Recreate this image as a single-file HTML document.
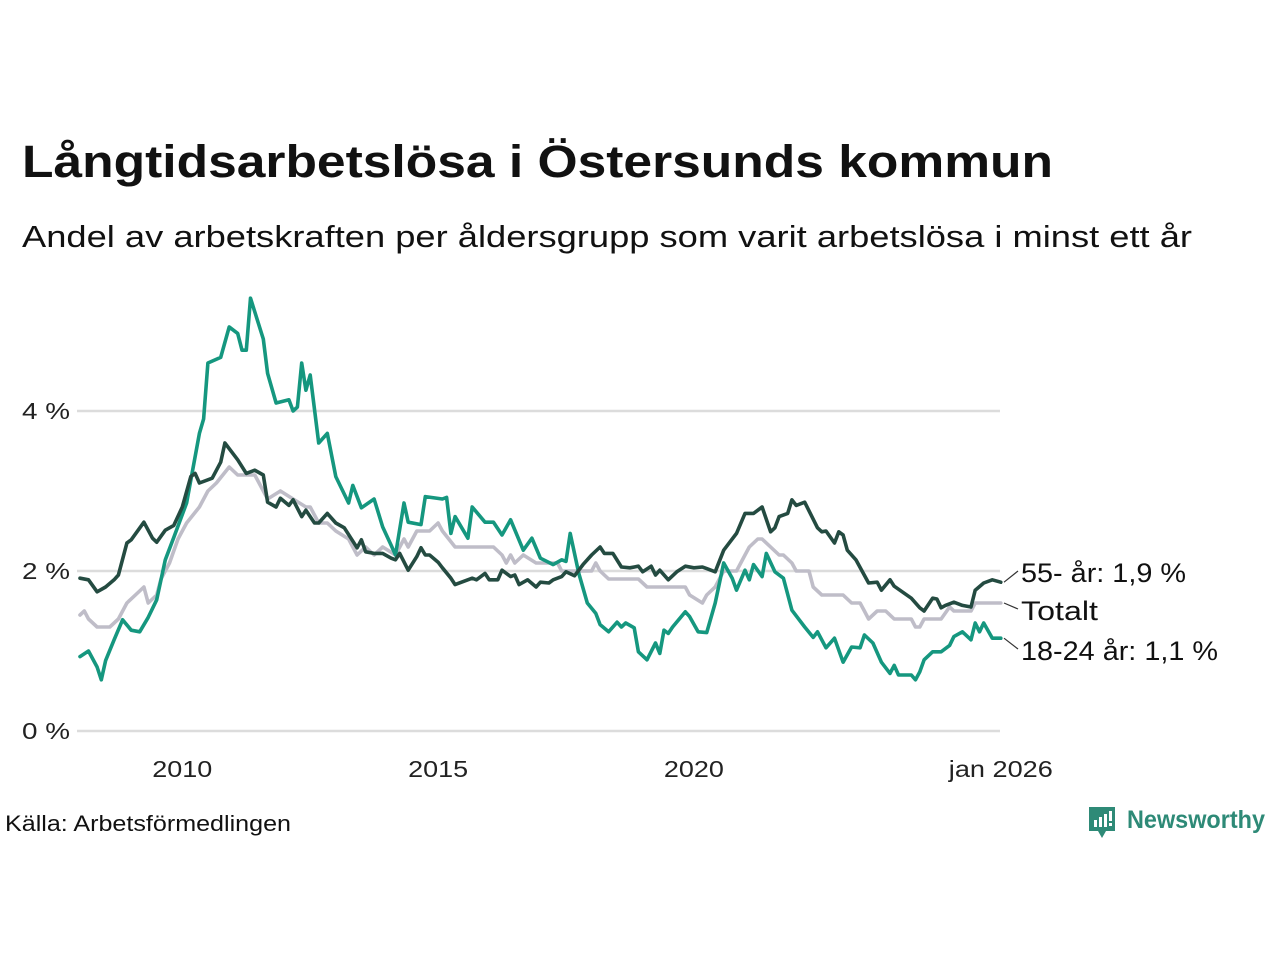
<!DOCTYPE html>
<html><head><meta charset="utf-8"><style>
html,body{margin:0;padding:0;background:#fff;}
svg{display:block;font-family:"Liberation Sans",sans-serif;}
</style></head><body>
<svg id="chart" width="1280" height="960" viewBox="0 0 1280 960" xmlns="http://www.w3.org/2000/svg">
<text x="22" y="177" font-size="45" font-weight="bold" fill="#111" textLength="1031" lengthAdjust="spacingAndGlyphs">Långtidsarbetslösa i Östersunds kommun</text>
<text x="22" y="247" font-size="31" fill="#111" textLength="1170" lengthAdjust="spacingAndGlyphs">Andel av arbetskraften per åldersgrupp som varit arbetslösa i minst ett år</text>
<g id="grid"></g>
<g id="series"></g>
<g id="labels"></g>
<text x="5" y="831" font-size="22" fill="#111" textLength="286" lengthAdjust="spacingAndGlyphs">Källa: Arbetsförmedlingen</text>
<g>
<path d="M1089 807h26v24h-9l-4 7-4-7h-9z" fill="#2e8a77"/>
<rect x="1094" y="820" width="3" height="7" fill="#fff"/>
<rect x="1099" y="817" width="3" height="10" fill="#fff"/>
<rect x="1104" y="814" width="3" height="13" fill="#fff"/>
<rect x="1109" y="811" width="3" height="10" fill="#fff"/>
<rect x="1109" y="823" width="3" height="3" fill="#fff"/>
<text x="1127" y="828" font-size="25" font-weight="bold" fill="#2e8a77" textLength="138" lengthAdjust="spacingAndGlyphs">Newsworthy</text>
</g>
</svg>
<script>
// month index since Jan 2008
const youngMonths=[0,2,4,5,6,8,10,12,14,16,18,20,22,25,28,29,30,33,35,37,38,39,40,43,44,46,49,50,51,52,53,54,56,58,60,63,64,66,69,71,73,74,76,77,80,81,85,86,87,88,91,92,95,97,99,101,104,106,108,111,113,114,115,117,119,121,122,124,126,127,128,130,131,133,135,136,137,138,139,142,143,145,147,149,151,153,154,156,157,158,160,161,163,165,167,170,172,173,175,177,179,181,183,184,186,188,190,191,192,195,196,197,198,200,202,204,205,207,209,210,211,212,214,216];
const youngValues=[0.93,1.0,0.8,0.64,0.88,1.14,1.39,1.26,1.24,1.42,1.64,2.14,2.42,2.85,3.72,3.9,4.6,4.67,5.05,4.97,4.76,4.76,5.41,4.9,4.47,4.1,4.14,4.0,4.05,4.6,4.26,4.45,3.6,3.72,3.18,2.85,3.07,2.79,2.9,2.55,2.32,2.2,2.85,2.61,2.58,2.93,2.9,2.92,2.47,2.68,2.41,2.8,2.61,2.61,2.45,2.64,2.26,2.41,2.16,2.08,2.14,2.12,2.47,1.97,1.6,1.47,1.33,1.24,1.36,1.3,1.35,1.29,0.99,0.89,1.1,0.97,1.26,1.22,1.3,1.49,1.43,1.24,1.23,1.6,2.1,1.91,1.76,2.01,1.89,2.08,1.93,2.22,1.99,1.91,1.51,1.3,1.17,1.24,1.04,1.16,0.86,1.05,1.04,1.2,1.1,0.86,0.72,0.82,0.7,0.7,0.64,0.74,0.89,0.99,0.99,1.07,1.18,1.24,1.14,1.35,1.24,1.35,1.16,1.16];
const oldMonths=[0,2,4,6,8,9,11,12,15,17,18,20,22,24,26,27,28,31,33,34,37,39,41,43,44,46,47,49,50,52,53,55,56,58,60,62,65,66,67,69,71,73,74,75,77,79,80,81,82,84,85,87,88,92,93,95,96,98,99,101,102,103,105,107,108,110,111,113,114,116,118,120,122,123,125,127,129,131,132,134,135,136,138,140,142,144,146,147,149,151,154,156,158,160,162,163,164,166,167,168,170,173,174,175,177,178,179,180,182,185,187,188,190,191,195,197,198,200,201,202,203,205,207,209,210,212,214,216];
const oldValues=[1.91,1.89,1.74,1.8,1.89,1.95,2.35,2.39,2.61,2.41,2.36,2.51,2.57,2.8,3.18,3.22,3.1,3.16,3.36,3.6,3.39,3.22,3.26,3.2,2.86,2.8,2.91,2.82,2.89,2.68,2.76,2.6,2.6,2.72,2.6,2.54,2.29,2.39,2.24,2.22,2.22,2.16,2.14,2.22,2.01,2.18,2.29,2.2,2.2,2.11,2.04,1.91,1.83,1.91,1.89,1.97,1.89,1.89,2.01,1.93,1.95,1.83,1.89,1.8,1.86,1.85,1.89,1.93,1.99,1.94,2.08,2.2,2.3,2.22,2.22,2.05,2.04,2.06,1.99,2.06,1.95,2.01,1.89,1.99,2.06,2.04,2.05,2.03,1.99,2.26,2.47,2.72,2.72,2.8,2.49,2.54,2.68,2.72,2.89,2.82,2.86,2.54,2.49,2.5,2.35,2.49,2.45,2.26,2.14,1.85,1.86,1.76,1.89,1.81,1.66,1.54,1.5,1.66,1.65,1.54,1.57,1.61,1.57,1.55,1.76,1.85,1.89,1.86];
const totalMonths=[0,1,2,4,7,9,11,13,15,16,18,19,21,23,25,28,30,32,35,37,41,44,47,50,53,54,56,58,60,63,65,67,69,71,74,76,77,79,82,84,85,88,97,99,100,101,102,104,107,108,112,113,120,121,122,124,131,133,142,143,146,147,148,149,150,151,154,156,157,159,160,162,164,165,167,168,171,172,174,179,181,183,184,185,187,189,191,195,196,197,198,202,204,205,209,210,216];
const totalValues=[1.45,1.5,1.4,1.3,1.3,1.4,1.6,1.7,1.8,1.6,1.7,1.9,2.1,2.4,2.6,2.8,3.0,3.1,3.3,3.2,3.2,2.9,3.0,2.9,2.8,2.8,2.6,2.6,2.5,2.4,2.2,2.3,2.2,2.3,2.2,2.4,2.3,2.5,2.5,2.6,2.5,2.3,2.3,2.2,2.1,2.2,2.1,2.2,2.1,2.1,2.1,2.0,2.0,2.1,2.0,1.9,1.9,1.8,1.8,1.7,1.6,1.7,1.75,1.8,1.9,2.0,2.0,2.2,2.3,2.4,2.4,2.3,2.2,2.2,2.1,2.0,2.0,1.8,1.7,1.7,1.6,1.6,1.5,1.4,1.5,1.5,1.4,1.4,1.3,1.3,1.4,1.4,1.55,1.5,1.5,1.6,1.6];
const yTicks=[0,2,4];
const yTickLabels=["0 %","2 %","4 %"];
const xTickMonths=[24,84,144,216];
const xTickLabels=["2010","2015","2020","jan 2026"];
const endLabels=["55- år: 1,9 %","Totalt","18-24 år: 1,1 %"];

const NS="http://www.w3.org/2000/svg";
const X0=80,X1=1000.8,MMAX=216,Y0=731,YPER=80;
const xs=m=>X0+(X1-X0)*m/MMAX;
const ys=v=>Y0-v*YPER;
function mk(tag,attrs,parent){const e=document.createElementNS(NS,tag);for(const k in attrs)e.setAttribute(k,attrs[k]);parent.appendChild(e);return e;}
const grid=document.getElementById('grid');
yTicks.forEach((t,i)=>{
  const l=mk('line',{x1:77,x2:1000,y1:ys(t),y2:ys(t),stroke:'#dcdcdc','stroke-width':2.5},grid);
  
  
  const tx=mk('text',{x:70,y:ys(t)+8,'font-size':23,'text-anchor':'end',fill:'#222',textLength:48,lengthAdjust:'spacingAndGlyphs'},grid);
  tx.textContent=yTickLabels[i];
  
  
});
xTickMonths.forEach((m,i)=>{
  const tx=mk('text',{x:xs(m),y:777,'font-size':23,'text-anchor':'middle',fill:'#222'},grid);
  tx.textContent=xTickLabels[i];
  if(i===3){tx.setAttribute('textLength',104);tx.setAttribute('lengthAdjust','spacingAndGlyphs');}
  else{tx.setAttribute('textLength',60);tx.setAttribute('lengthAdjust','spacingAndGlyphs');}
  
  
});
const ser=document.getElementById('series');
function line(ms,vs,color,name){
  const d=ms.map((m,i)=>(i?'L':'M')+xs(m).toFixed(1)+' '+ys(vs[i]).toFixed(1)).join(' ');
  const p=mk('path',{d:d,fill:'none',stroke:color,'stroke-width':3.6,'stroke-linejoin':'round','stroke-linecap':'round'},ser);
  
  
}
line(totalMonths,totalValues,'#bfbdc8','line-totalt');
line(youngMonths,youngValues,'#15977f','line-18-24');
line(oldMonths,oldValues,'#244b41','line-55-plus');
const lab=document.getElementById('labels');
const ends=[[oldValues[oldValues.length-1],573],[totalValues[totalValues.length-1],611],[youngValues[youngValues.length-1],651]];
const labelWidths=[165,77,197];
ends.forEach((e,i)=>{
  const l=mk('line',{x1:1004,y1:ys(e[0]),x2:1018,y2:e[1]-2,stroke:'#333','stroke-width':1.2},lab);
  
  
  const t=mk('text',{x:1021,y:e[1]+9,'font-size':27,fill:'#111',textLength:labelWidths[i],lengthAdjust:'spacingAndGlyphs'},lab);
  t.textContent=endLabels[i];
  
  
});
</script>
</body></html>
